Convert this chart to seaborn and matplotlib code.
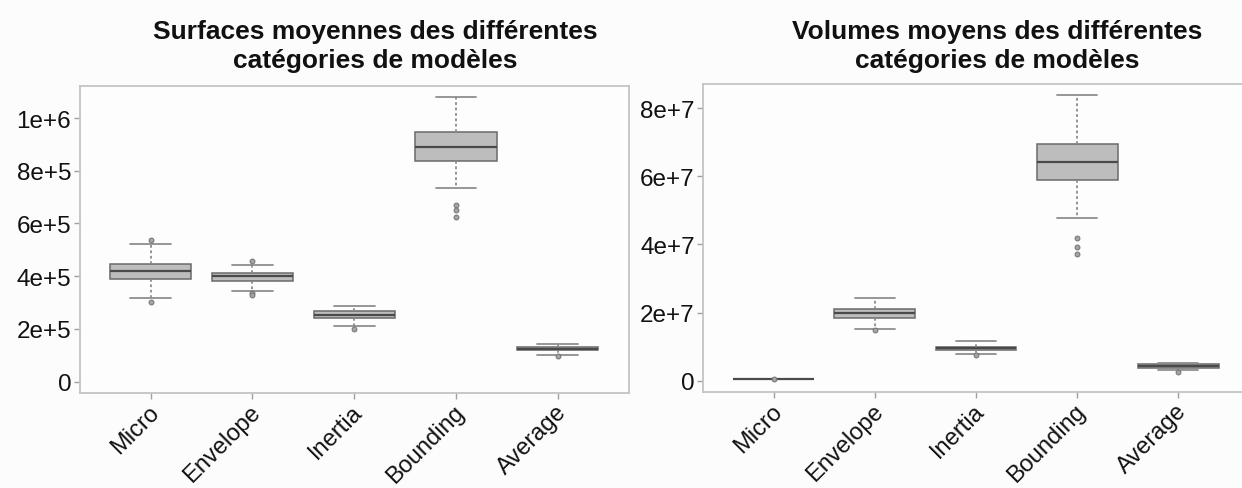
import numpy as np
import pandas as pd
import matplotlib
matplotlib.use("Agg")
import matplotlib.pyplot as plt
from matplotlib.transforms import ScaledTranslation
import seaborn as sns

# Model categories (shared by both panels)
categories = ["Micro", "Envelope", "Inertia", "Bounding", "Average"]

# Mean surface per category: whisker ends, quartiles, median, outliers
surface_low = [318000, 343500, 212000, 733500, 101000]
surface_q1 = [387500, 382500, 242500, 838500, 118500]
surface_median = [419000, 399000, 254000, 889000, 125000]
surface_q3 = [444500, 413000, 266500, 946000, 130000]
surface_high = [522500, 443000, 286500, 1078500, 144000]
surface_outlier_cat = ["Micro", "Micro", "Envelope", "Envelope", "Envelope",
                       "Inertia", "Bounding", "Bounding", "Bounding", "Average"]
surface_outlier_val = [539000, 304000, 459500, 334500, 327000,
                       201000, 671500, 652500, 625000, 96000]
surface_ticks = [0, 2e5, 4e5, 6e5, 8e5, 1e6]
surface_tick_labels = ["0", "2e+5", "4e+5", "6e+5", "8e+5", "1e+6"]

# Mean volume per category
volume_low = [350000, 15300000, 7700000, 47900000, 3000000]
volume_q1 = [420000, 18500000, 8900000, 58800000, 3800000]
volume_median = [450000, 19800000, 9500000, 64100000, 4300000]
volume_q3 = [480000, 21000000, 9950000, 69600000, 4800000]
volume_high = [550000, 24300000, 11500000, 83800000, 5270000]
volume_outlier_cat = ["Micro", "Envelope", "Inertia",
                      "Bounding", "Bounding", "Bounding", "Average"]
volume_outlier_val = [450000, 15000000, 7400000,
                      41800000, 39200000, 37300000, 2600000]
volume_ticks = [0, 2e7, 4e7, 6e7, 8e7]
volume_tick_labels = ["0", "2e+7", "4e+7", "6e+7", "8e+7"]

titles = ["Surfaces moyennes des différentes\ncatégories de modèles",
          "Volumes moyens des différentes\ncatégories de modèles"]


def summary_frame(low, q1, med, q3, high):
    rows = []
    for i, cat in enumerate(categories):
        for v in (low[i], q1[i], med[i], q3[i], high[i]):
            rows.append((cat, v))
    return pd.DataFrame(rows, columns=["categorie", "valeur"])


sns.set_style("white")
plt.rcParams["font.family"] = ["Liberation Sans", "DejaVu Sans"]

W, H = 1242, 489
fig = plt.figure(figsize=(W / 100, H / 100), dpi=100, facecolor="#fcfcfc")

panels = [
    dict(box=(79.5, 87, 629, 394), title_x=375,
         df=summary_frame(surface_low, surface_q1, surface_median, surface_q3, surface_high),
         out=pd.DataFrame({"categorie": surface_outlier_cat, "valeur": surface_outlier_val}),
         ticks=surface_ticks, labels=surface_tick_labels, top=max(surface_high)),
    dict(box=(703, 85, 1249, 393), title_x=997,
         df=summary_frame(volume_low, volume_q1, volume_median, volume_q3, volume_high),
         out=pd.DataFrame({"categorie": volume_outlier_cat, "valeur": volume_outlier_val}),
         ticks=volume_ticks, labels=volume_tick_labels, top=max(volume_high)),
]

frame_col = "#c4c4c4"
label_shift = ScaledTranslation(0.05, -0.07, fig.dpi_scale_trans)
for p, title in zip(panels, titles):
    x0, y0, x1, y1 = p["box"]
    ax = fig.add_axes([x0 / W, 1 - y1 / H, (x1 - x0) / W, (y1 - y0) / H])
    ax.set_facecolor("#fdfdfd")

    sns.boxplot(data=p["df"], x="categorie", y="valeur", order=categories,
                whis=(0, 100), width=0.8, color="#bdbdbd", saturation=1,
                linecolor="#6a6a6a", linewidth=1.1, fliersize=0,
                whiskerprops=dict(linestyle=(0, (1.5, 1.5)), color="#8a8a8a", linewidth=1.3),
                capprops=dict(color="#8e8e8e", linewidth=1.3),
                medianprops=dict(color="#4a4a4a", linewidth=1.6),
                ax=ax)
    sns.stripplot(data=p["out"], x="categorie", y="valeur", order=categories,
                  jitter=False, size=3.5, color="#a4a4a4", edgecolor="#727272",
                  linewidth=0.7, ax=ax, zorder=5)

    pad = 0.04 * p["top"]
    ax.set_ylim(-pad, p["top"] + pad)
    ax.set_xlim(-0.7, 4.7)
    ax.set_xlabel("")
    ax.set_ylabel("")
    ax.set_yticks(p["ticks"])
    ax.set_yticklabels(p["labels"])
    ax.tick_params(axis="both", which="both", length=4, width=1, color="#a0a0a0",
                   labelsize=17.5, labelcolor="#111111", direction="out",
                   left=True, bottom=True, pad=2)
    for lab in ax.get_xticklabels():
        lab.set_rotation(45)
        lab.set_ha("right")
        lab.set_va("center")
        lab.set_rotation_mode("anchor")
        lab.set_fontsize(17)
        lab.set_transform(lab.get_transform() + label_shift)
    for s in ax.spines.values():
        s.set_visible(True)
        s.set_color(frame_col)
        s.set_linewidth(1.3)

    fig.text(p["title_x"] / W, 1 - 46.5 / H, title, ha="center", va="center",
             fontsize=19, fontweight="bold", color="#111111", linespacing=1.3)

fig.savefig("out.png", dpi=100, facecolor=fig.get_facecolor())
